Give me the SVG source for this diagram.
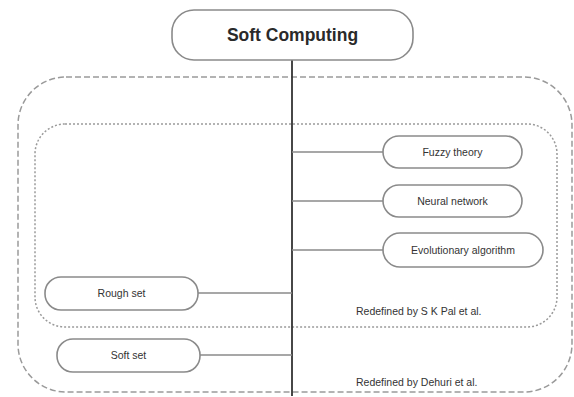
<svg xmlns="http://www.w3.org/2000/svg" width="574" height="397" viewBox="0 0 574 397">
<style>
.node{fill:#fff;stroke:#8a8a8a;stroke-width:1.6}
.lbl{font-family:"Liberation Sans",Arial,sans-serif;font-size:10.5px;fill:#333;text-anchor:middle}
.note{font-family:"Liberation Sans",Arial,sans-serif;font-size:10.5px;fill:#333;text-anchor:start}
.conn{stroke:#8a8a8a;stroke-width:1.6;fill:none}
.grp{fill:none;stroke:#9a9a9a;stroke-width:1.5}
</style>
<rect width="574" height="397" fill="#fff"/>
<g id="outer-group">
<rect class="grp" x="18" y="77" width="554" height="315" rx="48" stroke-dasharray="6,3"/>
<text class="note" x="356" y="386">Redefined by Dehuri et al.</text>
</g>
<g id="inner-group">
<rect class="grp" x="35" y="124" width="522" height="203" rx="30" stroke-dasharray="2,2"/>
<text class="note" x="356" y="315">Redefined by S K Pal et al.</text>
</g>
<g id="connectors">
<line x1="292" y1="60" x2="292" y2="396" stroke="#333" stroke-width="1.8"/>
<line class="conn" x1="292" y1="152" x2="383" y2="152"/>
<line class="conn" x1="292" y1="201" x2="383" y2="201"/>
<line class="conn" x1="292" y1="250" x2="383" y2="250"/>
<line class="conn" x1="198" y1="293" x2="292" y2="293"/>
<line class="conn" x1="200" y1="355" x2="292" y2="355"/>
</g>
<g id="soft-computing">
<rect class="node" x="172" y="10" width="241" height="50" rx="22"/>
<text x="292.5" y="41" font-family="'Liberation Sans',Arial,sans-serif" font-size="17.5" font-weight="bold" fill="#2a2a2a" text-anchor="middle">Soft Computing</text>
</g>
<g id="fuzzy-theory">
<rect class="node" x="383" y="136" width="139" height="32" rx="16"/>
<text class="lbl" x="452.5" y="156">Fuzzy theory</text>
</g>
<g id="neural-network">
<rect class="node" x="383" y="185" width="139" height="32" rx="16"/>
<text class="lbl" x="452.5" y="205">Neural network</text>
</g>
<g id="evolutionary-algorithm">
<rect class="node" x="383" y="233" width="160" height="34" rx="17"/>
<text class="lbl" x="463" y="254">Evolutionary algorithm</text>
</g>
<g id="rough-set">
<rect class="node" x="45" y="277" width="153" height="33" rx="16"/>
<text class="lbl" x="121.5" y="297">Rough set</text>
</g>
<g id="soft-set">
<rect class="node" x="57" y="339" width="143" height="33" rx="16"/>
<text class="lbl" x="128.5" y="359">Soft set</text>
</g>
</svg>
